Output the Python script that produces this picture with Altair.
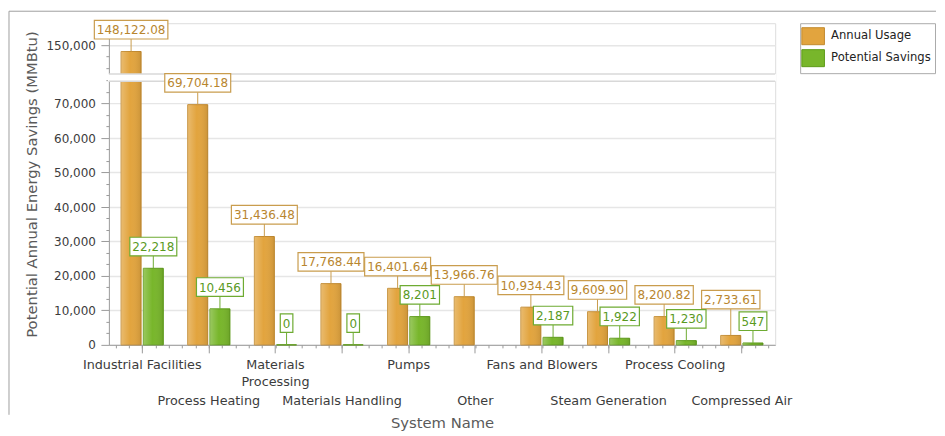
import altair as alt
import pandas as pd

# ---------------- data ----------------
categories = ["Industrial Facilities", "Process Heating", "Materials Processing",
              "Materials Handling", "Pumps", "Other", "Fans and Blowers",
              "Steam Generation", "Process Cooling", "Compressed Air"]
annual_usage = [148122.08, 69704.18, 31436.48, 17768.44, 16401.64, 13966.76,
                10934.43, 9609.90, 8200.82, 2733.61]
potential_savings = [22218, 10456, 0, 0, 8201, None, 2187, 1922, 1230, 547]
series_names = ["Annual Usage", "Potential Savings"]
y_tick_values = [0, 10000, 20000, 30000, 40000, 50000, 60000, 70000, 150000]

# ---------------- axis break ----------------
BREAK_LO = 76500      # end of lower segment (axis units)
BREAK_HI = 78600      # start of upper segment (axis units)
SHIFT = 63000         # values in the upper segment are drawn SHIFT lower
Y_TOP = 93333


def to_axis(v):
    return v - SHIFT if v > (BREAK_LO + BREAK_HI) / 2 + SHIFT / 2 else v


W, H = 667, 322
FONT = "DejaVu Sans"

ORANGE, ORANGE_DARK = "#E2A43E", "#C28A2E"
GREEN, GREEN_DARK = "#78B62B", "#5C9B17"
BOX_STROKE = {"Annual Usage": "#C99D4E", "Potential Savings": "#6EAB32"}
BOX_TEXT = {"Annual Usage": "#B8862E", "Potential Savings": "#5A9A1E"}

# x-offset band geometry (fractions of a category band)
XO_PAD_IN, XO_PAD_OUT = 0.1, 0.55
BOX_H, BOX_GAP, BOX_LIFT = 18.6, 12.5, 14

CHAR_W = {",": 0.318, ".": 0.318}


def text_width(s, size=12):
    return sum(CHAR_W.get(c, 0.636) for c in s) * size


rows = []
for i, cat in enumerate(categories):
    for j, (s, vals) in enumerate(zip(series_names, [annual_usage, potential_savings])):
        v = vals[i]
        if v is None:
            continue
        lab = f"{v:,.2f}" if s == "Annual Usage" else f"{int(v):,}"
        bw = text_width(lab) + 5
        rows.append({
            "category": cat, "series": s, "value": v, "yv": to_axis(v),
            "label": lab, "i": i, "j": j, "bw": bw,
            "box": f"M{-bw/2:.1f},{-BOX_H/2}H{bw/2:.1f}V{BOX_H/2}H{-bw/2:.1f}Z",
        })
df = pd.DataFrame(rows)

# ---- simple label collision avoidance (lift a box that would overlap a lower one) ----
step = W / len(categories)
sub_step = step / (2 - XO_PAD_IN + 2 * XO_PAD_OUT)
px = H / Y_TOP
placed = []
lifts = {}
for idx in df.sort_values("yv", kind="stable").index:
    r = df.loc[idx]
    cx = r.i * step + sub_step * (XO_PAD_OUT + r.j) + sub_step * (1 - XO_PAD_IN) / 2
    cy = H - r.yv * px - (BOX_GAP + BOX_H / 2)
    lift = 0
    while any(abs(cx - px2) < (r.bw + w2) / 2 and abs(cy - lift - py2) < BOX_H
              for px2, py2, w2 in placed):
        lift += BOX_LIFT
    placed.append((cx, cy - lift, r.bw))
    lifts[idx] = lift
df["lift"] = pd.Series(lifts)
df = df.drop(columns=["i", "j"])

one = pd.DataFrame({"hi": [BREAK_HI], "lo": [BREAK_LO], "xi": [0], "yz": [0]})

# ---------------- shared encodings ----------------
row2 = categories[1::2]
x_axis = alt.Axis(
    title="System Name", labelAngle=0, tickSize=8, tickColor="#9a9a9a",
    domainColor="#a0a0a0", labelFontSize=12.8, labelColor="#3c3c3c", labelFont=FONT,
    labelLineHeight=16.7, labelOverlap=False,
    labelPadding={"condition": {"test": "indexof(" + str(row2) + ", datum.value) >= 0",
                                "value": 42}, "value": 6},
    labelExpr="datum.value == 'Materials Processing' ? ['Materials', 'Processing'] : datum.label",
    titleFontSize=14.8, titleColor="#5a5a5a", titleFontWeight="normal", titleFont=FONT,
    titlePadding=8,
)
x_enc = alt.X("category:N", sort=categories,
              scale=alt.Scale(paddingInner=0, paddingOuter=0), axis=x_axis)
xo_enc = alt.XOffset("series:N", scale=alt.Scale(domain=series_names,
                                                  paddingInner=XO_PAD_IN,
                                                  paddingOuter=XO_PAD_OUT))
y_scale = alt.Scale(domain=[0, Y_TOP], nice=False, zero=True)
y_axis = alt.Axis(
    title="Potential Annual Energy Savings (MMBtu)",
    values=[to_axis(v) for v in y_tick_values],
    labelExpr=f"format(datum.value > {BREAK_LO} ? datum.value + {SHIFT} : datum.value, ',')",
    tickSize=8, tickColor="#9a9a9a", domainColor="#a0a0a0",
    labelFontSize=12, labelColor="#3c3c3c", labelFont=FONT, labelPadding=5.5,
    grid=True, gridColor="#e6e6e6", gridWidth=1.5,
    titleFontSize=14.8, titleColor="#5a5a5a", titleFontWeight="normal", titleFont=FONT,
    titlePadding=6,
)
y_enc = alt.Y("yv:Q", scale=y_scale, axis=y_axis, stack=None)

legend = alt.Legend(
    orient="none", legendX=692, legendY=0, title=None,
    strokeColor="#ababab", fillColor="white", padding=4,
    symbolType="M-1.33,-1H1.33V1H-1.33Z", symbolSize=289, symbolStrokeWidth=1,
    symbolOpacity=1, labelFontSize=11.6, labelFont=FONT, labelColor="#222222",
    labelOffset=9, rowPadding=0,
)

base = alt.Chart(df)

bars = base.mark_bar(opacity=1, strokeWidth=1).encode(
    x=x_enc, xOffset=xo_enc, y=y_enc,
    fill=alt.Fill("series:N", scale=alt.Scale(domain=series_names, range=[ORANGE, GREEN]),
                  legend=legend),
    stroke=alt.Stroke("series:N", scale=alt.Scale(domain=series_names,
                                                  range=[ORANGE_DARK, GREEN_DARK]),
                      legend=legend),
)

shade = alt.Gradient(
    gradient="linear", x1=0, x2=1, y1=0, y2=0,
    stops=[alt.GradientStop(color="rgba(255,255,255,0.25)", offset=0),
           alt.GradientStop(color="rgba(255,255,255,0)", offset=0.45),
           alt.GradientStop(color="rgba(0,0,0,0.10)", offset=1)],
)
bars_shade = base.mark_bar(fill=shade, strokeOpacity=0, opacity=1).encode(
    x=x_enc, xOffset=xo_enc, y=y_enc)

# axis-break band
brk = alt.Chart(one)
break_band = brk.mark_rect(fill="white", opacity=1).encode(
    x=alt.value(-1), x2=alt.value(W + 1),
    y=alt.Y("hi:Q", scale=y_scale, axis=y_axis), y2="lo:Q")
break_hi = brk.mark_rule(color="#d8d8d8", strokeWidth=1.5).encode(
    x=alt.value(0), x2=alt.value(W), y=alt.Y("hi:Q", scale=y_scale, axis=y_axis))
break_lo = brk.mark_rule(color="#d8d8d8", strokeWidth=1.5).encode(
    x=alt.value(0), x2=alt.value(W), y=alt.Y("lo:Q", scale=y_scale, axis=y_axis))

label_layers = []
for s in series_names:
    for lift in sorted(df.loc[df.series == s, "lift"].unique()):
        sub = base.transform_filter(
            (alt.datum.series == s) & (alt.datum.lift == float(lift)))
        off = BOX_GAP + BOX_H / 2 + lift
        leader = sub.mark_rule(color=BOX_STROKE[s], strokeWidth=1,
                               y2Offset=-(BOX_GAP + lift)).encode(
            x=x_enc, xOffset=xo_enc, y=y_enc, y2="yv:Q")
        box = sub.mark_point(filled=True, fill="white", stroke=BOX_STROKE[s],
                             strokeWidth=1.2, size=4, opacity=1, yOffset=-off).encode(
            x=x_enc, xOffset=xo_enc, y=y_enc, shape=alt.Shape("box:N", scale=None))
        txt = sub.mark_text(color=BOX_TEXT[s], font=FONT, fontSize=12, yOffset=-off + 0.5,
                            baseline="middle", align="center").encode(
            x=x_enc, xOffset=xo_enc, y=y_enc, text="label:N")
        label_layers += [leader, box, txt]

inner = alt.layer(bars, bars_shade, break_band, break_hi, break_lo, *label_layers)

# minor ticks (hidden layer with its own x scale, shared y scale)
minor_x = [round(0.1 + 0.2 * k, 2) for k in range(50)]
minor_y = [i * 10000 / 3 for i in range(1, 24) if i % 3] + \
          [to_axis(v) for v in (143333.3, 146666.7)]
minor = brk.mark_point(opacity=0).encode(
    x=alt.X("xi:Q", scale=alt.Scale(domain=[0, 10], nice=False, zero=False),
            axis=alt.Axis(orient="bottom", values=minor_x, labels=False, domain=False,
                          grid=False, tickSize=3, tickColor="#9a9a9a", title=None)),
    y=alt.Y("yz:Q", scale=y_scale,
            axis=alt.Axis(orient="left", values=minor_y, labels=False, domain=False,
                          grid=False, tickSize=3, tickColor="#9a9a9a", title=None)),
)

# outer frame (kept inside the window so the page does not scroll)
frame_left = brk.mark_rule(color="#a0a0a0", strokeWidth=1).encode(
    x=alt.value(-100), y=alt.value(-12), y2=alt.value(392))
frame_top = brk.mark_rule(color="#a0a0a0", strokeWidth=1).encode(
    x=alt.value(-100), x2=alt.value(828), y=alt.value(-12))

chart = alt.layer(inner, minor, frame_left, frame_top).resolve_scale(
    x="independent").resolve_axis(x="independent", y="independent").properties(
    width=W, height=H, padding={"left": 0, "top": 2, "right": 0, "bottom": 0}
).configure_view(stroke="#d4d4d4").configure(font=FONT)

chart.save("out.html", embed_options={"renderer": "svg", "actions": False})
